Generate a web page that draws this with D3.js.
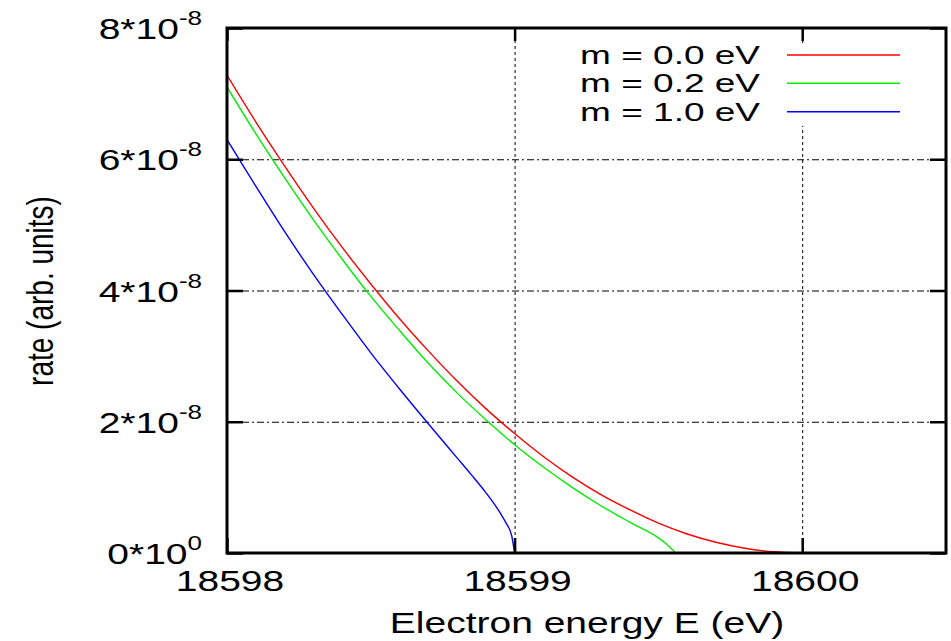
<!DOCTYPE html>
<html><head><meta charset="utf-8">
<script src="https://cdn.jsdelivr.net/npm/d3@7"></script>
<style>
body{margin:0;background:#fff}
svg text{font-family:"Liberation Sans",Arial,Helvetica,sans-serif;fill:#000}
</style>
</head><body>
<svg id="chart" width="951" height="641"></svg>
<script>
// ---- data (rates in units of 1e-8) ----
const xTickValues = [18598, 18599, 18600];
const xTickLabels = ["18598", "18599", "18600"];
const yTickValues = [0, 2, 4, 6, 8];
const yTickMantissa = ["0*10", "2*10", "4*10", "6*10", "8*10"];
const yTickExponent = ["0", "-8", "-8", "-8", "-8"];
const xGridValues = [18599, 18600];
const yGridValues = [2, 4, 6];

const seriesNames = ["m = 0.0 eV", "m = 0.2 eV", "m = 1.0 eV"];
const seriesColors = ["#ff0000", "#00ee00", "#0000ff"];

const energyM00 = [18598, 18598.1, 18598.2, 18598.3, 18598.4, 18598.5, 18598.6, 18598.7, 18598.8, 18598.9,
                   18599, 18599.1, 18599.2, 18599.3, 18599.4, 18599.5, 18599.6, 18599.7, 18599.8, 18599.9, 18600];
const rateM00 = [7.28, 6.57, 5.90, 5.26, 4.66, 4.10, 3.57, 3.08, 2.62, 2.20,
                 1.82, 1.47, 1.16, 0.89, 0.66, 0.455, 0.29, 0.164, 0.073, 0.018, 0];

const energyM02 = [18598, 18598.1, 18598.2, 18598.3, 18598.4, 18598.5, 18598.6, 18598.7, 18598.8, 18598.9,
                   18599, 18599.1, 18599.2, 18599.3, 18599.4, 18599.5, 18599.53, 18599.56];
const rateM02 = [7.10, 6.39, 5.72, 5.08, 4.48, 3.91, 3.39, 2.89, 2.44, 2.03,
                 1.65, 1.31, 1.00, 0.72, 0.47, 0.23, 0.13, 0];

const energyM10 = [18598, 18598.1, 18598.2, 18598.3, 18598.4, 18598.5, 18598.6, 18598.7, 18598.8,
                   18598.85, 18598.9, 18598.95, 18598.97, 18598.99, 18599];
const rateM10 = [6.30, 5.59, 4.90, 4.25, 3.64, 3.05, 2.50, 1.97, 1.45,
                 1.19, 0.92, 0.61, 0.46, 0.26, 0];

const seriesEnergy = [energyM00, energyM02, energyM10];
const seriesRate = [rateM00, rateM02, rateM10];

// ---- layout ----
const L = 227, R = 946, T = 28, B = 553;
const SX = 1.3; // horizontal stretch of the original lettering

const svg = d3.select("#chart");
const x = d3.scaleLinear().domain([18598, 18600.5]).range([L, R]);
const y = d3.scaleLinear().domain([0, 8]).range([B, T]);

// grid
const gridX = svg.append("g").attr("transform", `translate(0,${B})`)
  .call(d3.axisBottom(x).tickValues(xGridValues).tickSize(-(B - T)).tickFormat(""));
gridX.select(".domain").remove();
gridX.selectAll("line").attr("stroke", "#000").attr("stroke-width", 1).attr("stroke-dasharray", "3,3");

const gridY = svg.append("g").attr("transform", `translate(${L},0)`)
  .call(d3.axisLeft(y).tickValues(yGridValues).tickSize(-(R - L)).tickFormat(""));
gridY.select(".domain").remove();
gridY.selectAll("line").attr("stroke", "#000").attr("stroke-width", 1).attr("stroke-dasharray", "7,3,2,3");

// legend background (blanks the grid behind the key)
svg.append("rect").attr("x", 560).attr("y", 45).attr("width", 355).attr("height", 81).attr("fill", "#fff");

// curves
const clip = svg.append("clipPath").attr("id", "plotclip");
clip.append("rect").attr("x", L).attr("y", T).attr("width", R - L).attr("height", B - T);
const line = d3.line().x(d => x(d[0])).y(d => y(d[1])).curve(d3.curveMonotoneX);
seriesNames.forEach((name, i) => {
  const pts = seriesEnergy[i].map((e, j) => [e, seriesRate[i][j]]);
  svg.append("path").attr("d", line(pts)).attr("fill", "none")
    .attr("stroke", seriesColors[i]).attr("stroke-width", 1.4)
    .attr("clip-path", "url(#plotclip)");
});

// frame
svg.append("rect").attr("x", L).attr("y", T).attr("width", R - L).attr("height", B - T)
  .attr("fill", "none").attr("stroke", "#000").attr("stroke-width", 3);

// ticks (inward, mirrored)
function ticks(axis, tr) {
  const g = svg.append("g").attr("transform", tr).call(axis);
  g.select(".domain").remove();
  g.selectAll("line").attr("stroke", "#000").attr("stroke-width", 2.5);
  return g;
}
ticks(d3.axisBottom(x).tickValues(xTickValues).tickSize(-15).tickFormat(""), `translate(0,${B})`);
ticks(d3.axisTop(x).tickValues(xTickValues).tickSize(-13).tickFormat(""), `translate(0,${T})`);
ticks(d3.axisLeft(y).tickValues(yTickValues).tickSize(-16).tickFormat(""), `translate(${L},0)`);
ticks(d3.axisRight(y).tickValues(yTickValues).tickSize(-16).tickFormat(""), `translate(${R},0)`);

// x tick labels
xTickValues.forEach((v, i) => {
  svg.append("text").attr("transform", `translate(${x(v) + 3},591) scale(${SX},1)`)
    .attr("text-anchor", "middle").attr("font-size", 30).text(xTickLabels[i]);
});

// y tick labels
yTickValues.forEach((v, i) => {
  const t = svg.append("text").attr("transform", `translate(202,${y(v) + 11}) scale(${SX},1)`)
    .attr("text-anchor", "end").attr("font-size", 30);
  t.append("tspan").text(yTickMantissa[i]);
  t.append("tspan").attr("font-size", 20).attr("dy", -14).text(yTickExponent[i]);
});

// axis titles
svg.append("text").attr("transform", `translate(587,633) scale(${SX},1)`)
  .attr("text-anchor", "middle").attr("font-size", 30).text("Electron energy E (eV)");
svg.append("text").attr("transform", `translate(53,291) scale(${SX},1) rotate(-90)`)
  .attr("text-anchor", "middle").attr("font-size", 28).text("rate (arb. units)");

// legend
const legendY = [55, 83.3, 111.7];
seriesNames.forEach((name, i) => {
  svg.append("text").attr("transform", `translate(760,${legendY[i] + 9}) scale(1.48,1)`)
    .attr("text-anchor", "end").attr("font-size", 25).text(name);
  svg.append("line").attr("x1", 787).attr("x2", 900).attr("y1", legendY[i]).attr("y2", legendY[i])
    .attr("stroke", seriesColors[i]).attr("stroke-width", 1.4);
});
</script>
</body></html>
